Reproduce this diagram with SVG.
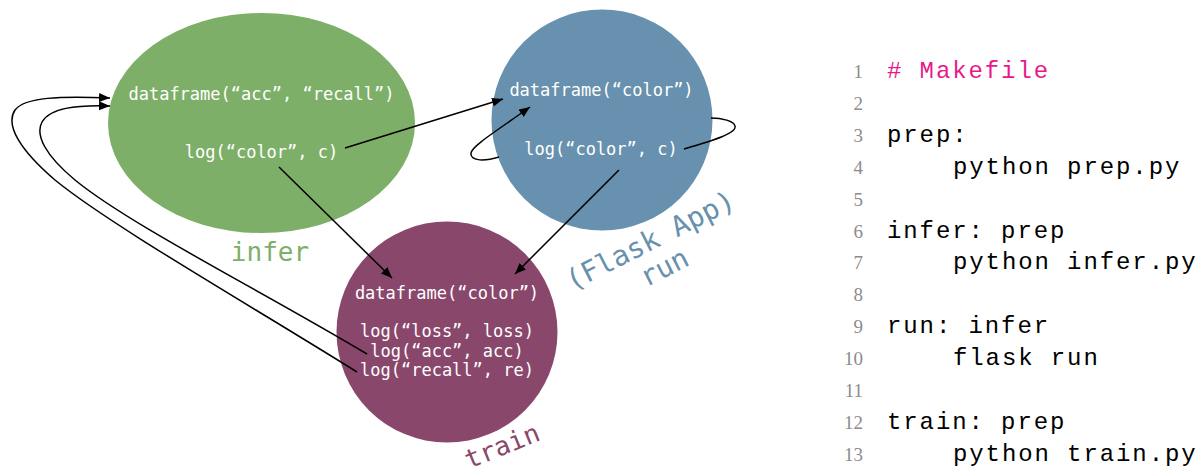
<svg xmlns="http://www.w3.org/2000/svg" width="1204" height="473" viewBox="0 0 1204 473">
  <defs>
    <marker id="arr" markerUnits="userSpaceOnUse" markerWidth="12" markerHeight="10" refX="11" refY="4.5" orient="auto">
      <path d="M0,0 L11,4.5 L0,9 z" fill="#000"/>
    </marker>
  </defs>
  <style>
    .node-text { font-family: "DejaVu Sans Mono", monospace; font-size: 17px; fill: #fff; text-anchor: middle; }
    .label { font-family: "DejaVu Sans Mono", monospace; font-size: 26px; text-anchor: middle; }
    .conn { fill: none; stroke: #000; stroke-width: 1.5; }
    .ln { font-family: "Liberation Serif", serif; font-size: 19px; fill: #8c8c8c; text-anchor: end; }
    .code { font-family: "Liberation Mono", monospace; font-size: 24px; letter-spacing: 1.9px; fill: #000; }
  </style>
  <rect width="1204" height="473" fill="#fff"/>

  <g id="infer">
    <ellipse cx="261.5" cy="123" rx="153.5" ry="110" fill="#7daf68"/>
    <text class="node-text" x="261.5" y="100">dataframe(“acc”, “recall”)</text>
    <text class="node-text" x="261.5" y="158">log(“color”, c)</text>
    <text class="label" x="270" y="261" fill="#7daf68">infer</text>
  </g>

  <g id="run">
    <circle cx="602" cy="120" r="110.5" fill="#6791ae"/>
    <text class="node-text" x="601.5" y="96">dataframe(“color”)</text>
    <text class="node-text" x="601" y="155">log(“color”, c)</text>
    <g transform="rotate(-27 650 240)">
      <text class="label" x="650" y="250" fill="#6791ae" style="font-size:28px">(Flask App)</text>
    </g>
    <g transform="rotate(-27 664 267)">
      <text class="label" x="664" y="277" fill="#6791ae" style="font-size:28px">run</text>
    </g>
  </g>

  <g id="train">
    <circle cx="447" cy="332" r="110.5" fill="#89486b"/>
    <text class="node-text" x="447" y="299">dataframe(“color”)</text>
    <text class="node-text" x="447" y="337">log(“loss”, loss)</text>
    <text class="node-text" x="447" y="357">log(“acc”, acc)</text>
    <text class="node-text" x="447" y="376">log(“recall”, re)</text>
    <g transform="rotate(-22 502 446)">
      <text class="label" x="502" y="455" fill="#89486b">train</text>
    </g>
  </g>

  <g id="connectors">
    <path class="conn" d="M345,148 L503,99" marker-end="url(#arr)"/>
    <path class="conn" d="M279,167 L392,278" marker-end="url(#arr)"/>
    <path class="conn" d="M619,170 L515,274" marker-end="url(#arr)"/>
    <path class="conn" d="M684,149 C715,140 737,133 735,126 C734,121 722,118 711,118"/>
    <path class="conn" d="M499,157 C486,161 470,162 471,153 C472,146 495,132 530,107" marker-end="url(#arr)"/>
    <path class="conn" d="M357,372 C250,305 110,225 55,180 C20,150 5,125 15,110 C25,97 60,96 110,98" marker-end="url(#arr)"/>
    <path class="conn" d="M367,354 C260,290 130,225 75,180 C45,155 35,135 42,122 C50,108 75,105 110,106" marker-end="url(#arr)"/>
  </g>

  <g id="makefile">
    <text class="ln" x="863" y="78">1</text>
    <text class="ln" x="863" y="110">2</text>
    <text class="ln" x="863" y="142">3</text>
    <text class="ln" x="863" y="174">4</text>
    <text class="ln" x="863" y="206">5</text>
    <text class="ln" x="863" y="238">6</text>
    <text class="ln" x="863" y="269">7</text>
    <text class="ln" x="863" y="301">8</text>
    <text class="ln" x="863" y="333">9</text>
    <text class="ln" x="863" y="365">10</text>
    <text class="ln" x="863" y="397">11</text>
    <text class="ln" x="863" y="429">12</text>
    <text class="ln" x="863" y="461">13</text>
    <text class="code" x="887" y="78" style="fill:#e8198b"># Makefile</text>
    <text class="code" x="887" y="142">prep:</text>
    <text class="code" x="953" y="174">python prep.py</text>
    <text class="code" x="887" y="238">infer: prep</text>
    <text class="code" x="953" y="269">python infer.py</text>
    <text class="code" x="887" y="333">run: infer</text>
    <text class="code" x="953" y="365">flask run</text>
    <text class="code" x="887" y="429">train: prep</text>
    <text class="code" x="953" y="461">python train.py</text>
  </g>
</svg>
